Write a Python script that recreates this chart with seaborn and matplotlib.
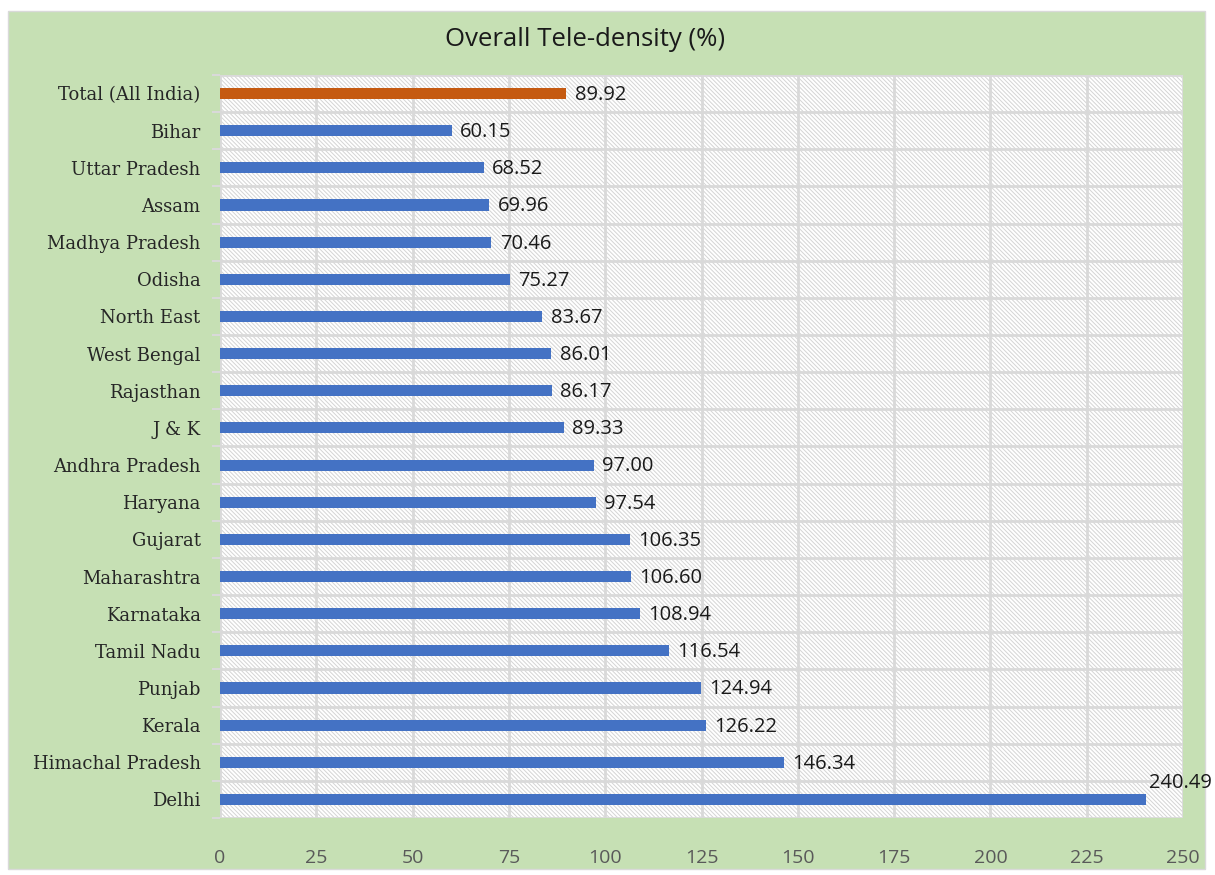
import matplotlib
matplotlib.use('Agg')
import matplotlib.pyplot as plt
from matplotlib.patches import Rectangle
import seaborn as sns
import pandas as pd
import numpy as np

# Dati della tele-densità
states = ['Total (All India)', 'Bihar', 'Uttar Pradesh', 'Assam', 'Madhya Pradesh', 'Odisha',
          'North East', 'West Bengal', 'Rajasthan', 'J & K', 'Andhra Pradesh', 'Haryana',
          'Gujarat', 'Maharashtra', 'Karnataka', 'Tamil Nadu', 'Punjab', 'Kerala',
          'Himachal Pradesh', 'Delhi']
density = [89.92, 60.15, 68.52, 69.96, 70.46, 75.27, 83.67, 86.01, 86.17, 89.33,
           97.00, 97.54, 106.35, 106.60, 108.94, 116.54, 124.94, 126.22, 146.34, 240.49]
kind = ['total'] + ['state'] * (len(states) - 1)
x_ticks = [0, 25, 50, 75, 100, 125, 150, 175, 200, 225, 250]

colori = {'total': '#C55A11', 'state': '#4472C4'}
grid_col = '#d9d9d9'

df = pd.DataFrame({'State': states, 'Density': density, 'Kind': kind})

sns.set_style('white')
plt.rcParams['hatch.linewidth'] = 0.7

fig = plt.figure(figsize=(12.15, 8.75), dpi=100)
fig.patch.set_facecolor('white')
# sfondo verde
fig.patches.append(Rectangle((8/1215, 6/875), 1197/1215, 858/875, transform=fig.transFigure,
                             facecolor='#C6E0B4', edgecolor='#d9d9d9', linewidth=1, zorder=-1))

ax = fig.add_axes([220/1215, 1 - 818/875, (1183 - 220)/1215, (818 - 75)/875])
ax.set_facecolor('white')
ax.add_patch(Rectangle((0, 0), 1, 1, transform=ax.transAxes, facecolor='white',
                       edgecolor='#d4d4d4', linewidth=0, hatch='\\' * 8, zorder=0.1))

sns.barplot(data=df, x='Density', y='State', hue='Kind', palette=colori, orient='h',
            width=0.3, legend=False, ax=ax, saturation=1, zorder=2, linewidth=0,
            edgecolor='none')

ax.set_xlim(0, 250)
ax.set_ylim(len(states) - 0.5, -0.5)
ax.set_xticks(x_ticks, labels=[str(t) for t in x_ticks])
ax.set_yticks(np.arange(-0.5, len(states), 1), minor=True)
ax.grid(axis='x', which='major', color=grid_col, linewidth=2)
ax.grid(axis='y', which='minor', color=grid_col, linewidth=2)
ax.set_axisbelow(True)
for s in ax.spines.values():
    s.set_visible(False)

ax.tick_params(axis='x', which='major', length=0, pad=22, labelsize=14, labelcolor='#595959')
ax.tick_params(axis='y', which='major', length=0, pad=14)
ax.tick_params(axis='y', which='minor', length=6, color=grid_col, width=1.5, left=True)
for lab in ax.get_xticklabels():
    lab.set_family(['Open Sans', 'DejaVu Sans'])
for lab in ax.get_yticklabels():
    lab.set_family(['DejaVu Serif'])
    lab.set_fontsize(13)
    lab.set_color('#262626')
ax.set_xlabel('')
ax.set_ylabel('')

# etichette dei valori
for i, v in enumerate(density):
    if v > 230:
        ax.annotate(f'{v:.2f}', (v, i), xytext=(2, 12), textcoords='offset points',
                    ha='left', va='center', fontsize=14.5, family='Open Sans', color='#1a1a1a',
                    annotation_clip=False)
    else:
        ax.annotate(f'{v:.2f}', (v, i), xytext=(6, -1), textcoords='offset points',
                    ha='left', va='center', fontsize=14.5, family='Open Sans', color='#1a1a1a')

fig.text(585/1215, 1 - 40/875, 'Overall Tele-density (%)', ha='center', va='center',
         fontsize=18.5, family='Open Sans', color='#1a1a1a')

plt.savefig('out.png', dpi=100)
